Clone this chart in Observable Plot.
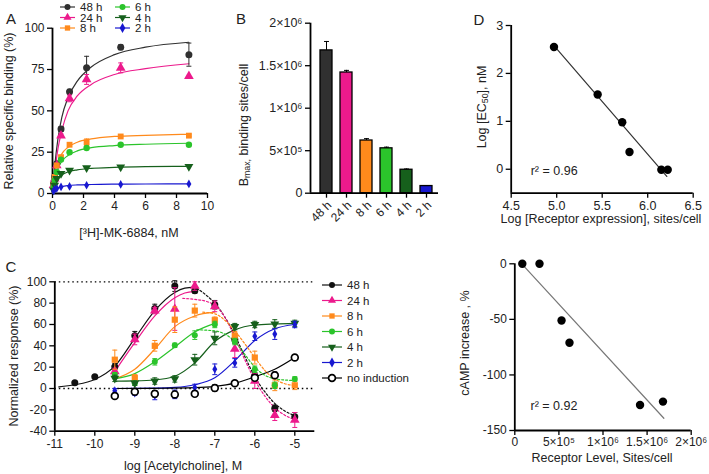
<!DOCTYPE html>
<html><head><meta charset="utf-8">
<script src="https://cdn.jsdelivr.net/npm/d3@7"></script>
<script src="https://cdn.jsdelivr.net/npm/@observablehq/plot@0.6"></script>
<style>
body{margin:0;background:#fff;}
#root{position:relative;width:709px;height:474px;overflow:hidden;font-family:"Liberation Sans",Arial,sans-serif;color:#222;background:#fff;}
.panel{position:absolute;}
.lbl{position:absolute;white-space:nowrap;font-size:12.5px;color:#222;line-height:1;}
.lbl sub{font-size:70%;vertical-align:-0.25em;}
#root svg g[aria-label$="axis tick"] path{stroke:#000;stroke-width:1.3px;}
</style></head>
<body><div id="root"></div>
<script>
// ---------- shared ----------
const hours = ["48 h","24 h","8 h","6 h","4 h","2 h"];
const seriesColors = ["#303030","#ec1a8c","#ff8a1c","#2bc42b","#16601c","#1818d0"];
const triDown = {draw(ctx, size){const y=-Math.sqrt(size/(Math.sqrt(3)*3));ctx.moveTo(0,-2*y);ctx.lineTo(-Math.sqrt(3)*y,y);ctx.lineTo(Math.sqrt(3)*y,y);ctx.closePath();}};
const capSym = {draw(ctx, size){const w=Math.sqrt(size)/2;ctx.moveTo(-w,0);ctx.lineTo(w,0);}};
const symNames = ["circle","triangle","square","circle","down","diamond"];
const symOf = n => n === "down" ? triDown : n;
const d3SymOf = n => ({circle:d3.symbolCircle,triangle:d3.symbolTriangle,square:d3.symbolSquare,diamond:d3.symbolDiamond,down:triDown})[n];
const plain = d => String(d);

// ---------- Panel A: saturation binding ----------
const aConc = [0.07,0.14,0.275,0.55,1.1,2.2,4.4,8.8];
const aBind48 = [6,10,18,39,61.5,76,88.5,84];
const aBind24 = [5,9,17,35,57.5,69,76,71];
const aBind8  = [5,10,17,22,29.5,31,34.5,35];
const aBind6  = [4,8,13,20.5,25,27.5,29.5,29.5];
const aBind4  = [2,5,9,12,14,15.5,16,16.3];
const aBind2  = [1.5,2.5,3,4,4.3,5,5.5,5.8];
const aErr48 = [0,0,1,1.5,1.5,7,1.5,7];
const aErr24 = [0,0,1,1,2,3,3,0];
const aErr8  = [0,0,0,1,1,2,0.5,0.5];
const aErr6  = [0,0,0,0.5,0.5,0.5,0.5,0.5];
const aErr4  = [0,0,0,0,0,0,0,0];
const aErr2  = [0,0,0,0,0,0,0,0];
const aFitConc = [0,0.15,0.35,0.6,1,1.6,2.5,4,6,8.8];
const aFit48 = [0,17,33,46,58,68,76.5,84,88.5,91.5];
const aFit24 = [0,13,27,38,50,59,66,72,75.5,78.5];
const aFit8  = [0,12,19,24,28,31,33,34.5,35.2,35.8];
const aFit6  = [0,9,15,19.5,23,25.8,27.7,29,29.8,30.4];
const aFit4  = [0,6,9.3,11.3,13.1,14.3,15.2,15.8,16.2,16.4];
const aFit2  = [0,2.3,3.5,4.2,4.8,5.2,5.45,5.65,5.75,5.85];
const aXTicks = [0,2,4,6,8,10];
const aYTicks = [0,25,50,75,100];

// ---------- Panel B: Bmax bars ----------
const bLabels = ["48 h","24 h","8 h","6 h","4 h","2 h"];
const bBmax = [1680000,1420000,620000,528000,276000,84000];
const bErr  = [105000,25000,22000,14000,9000,6000];
const bYTicks = [0,500000,1000000,1500000,2000000];
const bYTickText = ["0","5×10⁵","1×10⁶","1.5×10⁶","2×10⁶"];

// ---------- Panel C: dose response ----------
const cDose = [-10.5,-10,-9.5,-9,-8.5,-8,-7.5,-7,-6.5,-6,-5.5,-5];
const cResp48 = [5.5,11,20.5,49.5,75,96,91.5,78.5,46,12,-18.5,-26.5];
const cResp24 = [null,null,16,46,73,74.5,96,77,37,7,-25,-29.5];
const cResp8  = [null,null,27,10,40,64.5,73,64,49.5,29,3,3];
const cResp6  = [null,null,13,5,25,40.5,50,60,44,18,3,9];
const cResp4  = [null,null,9.5,5,7,9,27,47,58,60,60.5,61];
const cResp2  = [null,null,-2,-4.5,-6.5,-5.5,1,18,24,49,51,60];
const cRespNo = [null,null,-7,-3,-5,-5.5,-5,0.5,5,10,12.5,29];
const cErr48 = [0,0,3,4,4,5,2,4,4,3,3,4];
const cErr24 = [0,0,3,5,3,20,4,5,8,7,5,7];
const cErr8  = [0,0,9,3,5,12,6,3,4,6,5,4];
const cErr6  = [0,0,2,2,3,2,4,3,3,3,3,2];
const cErr4  = [0,0,3,2,3,3,5,6,3,3,4,3];
const cErr2  = [0,0,2,2,4,4,3,5,4,4,5,3];
const cErrNo = [0,0,2,2,3,3,2,3,2,2,3,2];
const c48UpX = [-10.9,-10.5,-10,-9.5,-9,-8.5,-8,-7.75,-7.5];
const c48UpY = [1.5,3.5,8.5,21,47,73,90,94,95];
const c48DownX = [-7.45,-7.2,-7,-6.75,-6.5,-6.25,-6,-5.75,-5.5,-5.25,-5];
const c48DownY = [94,87,80,67,50,30,11,-3,-14,-21,-25.5];
const c24UpX = [-9.5,-9,-8.5,-8,-7.75,-7.5];
const c24UpY = [16,43,68,85,89.5,91];
const c24DownX = [-7.8,-7.5,-7.2,-7,-6.75,-6.5,-6.25,-6,-5.75,-5.5,-5.25,-5];
const c24DownY = [84.5,83.5,81.5,78,67,48,27,8,-7,-18,-25,-29];
const c8UpX = [-9.5,-9,-8.5,-8,-7.5,-7];
const c8UpY = [9,18,37,58,68,71.5];
const c8DownX = [-7.3,-7,-6.75,-6.5,-6.25,-6,-5.75,-5.5,-5.25,-5];
const c8DownY = [71.5,70,64,54,42,29,17,9,4.5,3];
const c6UpX = [-9.5,-9,-8.5,-8,-7.5,-7];
const c6UpY = [9,14,25,39,53,61];
const c6DownX = [-7.45,-7,-6.75,-6.5,-6.25,-6,-5.75,-5.5,-5.25,-5];
const c6DownY = [55,54,51,44,32,20,12.5,9,8,7.5];
const c4FitX = [-9.5,-9,-8.5,-8,-7.5,-7,-6.5,-6,-5.5,-5];
const c4FitY = [7,7.2,8,11.5,24,44,55,59.5,60.5,61];
const c2FitX = [-9.5,-8.5,-8,-7.5,-7,-6.5,-6,-5.5,-5];
const c2FitY = [0,0.3,1,3.5,10,26,45,56,60];
const cNoFitX = [-9.5,-8.5,-7.5,-7,-6.5,-6,-5.5,-5];
const cNoFitY = [0,0.2,0.8,2,5,11,18,29];
const cRefLines = [0,100];
const cXTicks = [-11,-10,-9,-8,-7,-6,-5];
const cYTicks = [-40,-20,0,20,40,60,80,100];
const cLegendLabels = ["48 h","24 h","8 h","6 h","4 h","2 h","no induction"];

// ---------- Panel D: EC50 vs receptor ----------
const dLogReceptor = [4.97,5.45,5.72,5.80,6.15,6.22];
const dLogEC50 = [2.55,1.56,0.98,0.36,-0.01,-0.01];
const dFitX = [4.97,6.21];
const dFitY = [2.58,-0.15];
const dXTicks = [4.5,5.0,5.5,6.0,6.5];
const dYTicks = [0,1,2,3];
const dR2 = "r² = 0.96";

// ---------- Panel E: cAMP vs receptor level ----------
const eLevel = [85000,280000,530000,620000,1420000,1680000];
const eCamp = [0,0,-51,-71,-127,-124];
const eFitX = [95000,1690000];
const eFitY = [-1.5,-139];
const eXTicks = [0,500000,1000000,1500000,2000000];
const eXTickText = ["0","5×10⁵","1×10⁶","1.5×10⁶","2×10⁶"];
const eYTicks = [-150,-100,-50,0];
const eR2 = "r² = 0.92";

// ---------- helpers ----------
const root = document.getElementById("root");
function place(node, left, top){const d=document.createElement("div");d.className="panel";d.style.left=left+"px";d.style.top=top+"px";d.appendChild(node);root.appendChild(d);}
function mk(o, fs){return Plot.plot(Object.assign({}, o, {style:{background:"transparent",fontFamily:'"Liberation Sans", Arial, sans-serif',fontSize:fs||"12px",color:"#222",overflow:"visible"}}));}
const AX = {stroke:"#000", strokeWidth:1.8};
function errMarks(pts, color, capR, sw){
  const ep = pts.filter(p => p.e > 0 && p.y != null);
  return [
    Plot.ruleX(ep,{x:"x",y1:p=>p.y-p.e,y2:p=>p.y+p.e,stroke:color,strokeWidth:sw||1}),
    Plot.dot(ep,{x:"x",y:p=>p.y+p.e,symbol:capSym,r:capR,fill:"none",stroke:color,strokeWidth:sw||1}),
    Plot.dot(ep,{x:"x",y:p=>p.y-p.e,symbol:capSym,r:capR,fill:"none",stroke:color,strokeWidth:sw||1})
  ];
}

// ---------- Panel A ----------
{
  const bind=[aBind48,aBind24,aBind8,aBind6,aBind4,aBind2];
  const err=[aErr48,aErr24,aErr8,aErr6,aErr4,aErr2];
  const fit=[aFit48,aFit24,aFit8,aFit6,aFit4,aFit2];
  const rad=[3.5,3.6,3.3,3.2,3.3,2.6];
  const marks=[
    Plot.ruleX([aXTicks[0]],{y1:aYTicks[0],y2:aYTicks[aYTicks.length-1],...AX}),
    Plot.ruleY([aYTicks[0]],{x1:aXTicks[0],x2:aXTicks[aXTicks.length-1],...AX})
  ];
  hours.forEach((h,i)=>marks.push(Plot.line(aFitConc.map((x,j)=>({x,y:fit[i][j]})),{x:"x",y:"y",stroke:seriesColors[i],strokeWidth:1.2,curve:"monotone-x"})));
  hours.forEach((h,i)=>{
    const pts=aConc.map((x,j)=>({x,y:bind[i][j],e:err[i][j]}));
    marks.push(...errMarks(pts,seriesColors[i],2.8,1));
    marks.push(Plot.dot(pts,{x:"x",y:"y",symbol:symOf(symNames[i]),r:rad[i],fill:seriesColors[i],stroke:"none"}));
  });
  place(mk({width:230,height:245,marginLeft:52,marginRight:23,marginTop:27.7,marginBottom:52,
    x:{domain:[0,10],ticks:aXTicks,tickFormat:plain,tickSize:5,tickPadding:3,label:null},
    y:{domain:[0,100],ticks:aYTicks,tickFormat:plain,tickSize:5,tickPadding:3,label:null},
    marks}),0,0);
}

// ---------- Panel B ----------
{
  const data=bLabels.map((l,i)=>({i,v:bBmax[i],e:bErr[i],c:seriesColors[i],label:l}));
  const marks=[
    Plot.rectY(data,{x1:d=>d.i-0.3,x2:d=>d.i+0.3,y1:0,y2:"v",fill:"c",stroke:"#000",strokeWidth:1.3}),
    Plot.ruleX(data,{x:"i",y1:"v",y2:d=>d.v+d.e,stroke:"#000",strokeWidth:1}),
    Plot.dot(data,{x:"i",y:d=>d.v+d.e,symbol:capSym,r:2.8,fill:"none",stroke:"#000",strokeWidth:1}),
    Plot.ruleX([-0.8],{y1:0,y2:bYTicks[bYTicks.length-1],...AX}),
    Plot.ruleY([0],{x1:-0.8,x2:5.6,...AX}),
    Plot.text(data,{x:"i",y:0,text:"label",rotate:-45,textAnchor:"end",lineAnchor:"middle",dx:3,dy:10,fontSize:12,fill:"#222"})
  ];
  place(mk({width:210,height:260,marginLeft:74,marginRight:8,marginTop:22.7,marginBottom:67.3,
    color:{type:"identity"},
    x:{domain:[-0.8,5.6],ticks:bLabels.map((l,i)=>i),tickFormat:()=>"",tickSize:5,tickPadding:2,label:null},
    y:{domain:[0,2000000],ticks:bYTicks,tickFormat:v=>bYTickText[bYTicks.indexOf(v)],tickSize:5,tickPadding:3,label:null},
    marks},"12.5px"),236,0);
}

// ---------- Panel C ----------
const cColors = ["#111",...seriesColors.slice(1),"#000"];
const cSyms = [...symNames,"circle"];
const cRad = [3.5,3.6,3.5,3.0,3.3,2.6,3.4];
{
  const resp=[cResp48,cResp24,cResp8,cResp6,cResp4,cResp2,cRespNo];
  const err=[cErr48,cErr24,cErr8,cErr6,cErr4,cErr2,cErrNo];
  const solid=[[c48UpX,c48UpY],[c24UpX,c24UpY],[c8UpX,c8UpY],[c6UpX,c6UpY],[c4FitX,c4FitY],[c2FitX,c2FitY],[cNoFitX,cNoFitY]];
  const dotted=[[c48DownX,c48DownY],[c24DownX,c24DownY],[c8DownX,c8DownY],[c6DownX,c6DownY]];
  const marks=[
    Plot.ruleY(cRefLines,{x1:-11,x2:-4.5,stroke:"#000",strokeWidth:1.3,strokeDasharray:"1.5,3"}),
    Plot.ruleX([-11],{y1:-40,y2:100,...AX}),
    Plot.ruleY([-40],{x1:-11,x2:-4.5,...AX})
  ];
  solid.forEach(([X,Y],i)=>marks.push(Plot.line(X.map((x,j)=>({x,y:Y[j]})),{x:"x",y:"y",stroke:cColors[i],strokeWidth:1.2,curve:"monotone-x"})));
  dotted.forEach(([X,Y],i)=>marks.push(Plot.line(X.map((x,j)=>({x,y:Y[j]})),{x:"x",y:"y",stroke:cColors[i],strokeWidth:1.2,strokeDasharray:"2,2",curve:"monotone-x"})));
  resp.forEach((R,i)=>{
    const pts=cDose.map((x,j)=>({x,y:R[j],e:err[i][j]})).filter(p=>p.y!=null);
    marks.push(...errMarks(pts,cColors[i],2.8,1));
    if(i===6) marks.push(Plot.dot(pts,{x:"x",y:"y",symbol:"circle",r:cRad[i],fill:"#fff",stroke:"#000",strokeWidth:1.7}));
    else marks.push(Plot.dot(pts,{x:"x",y:"y",symbol:symOf(cSyms[i]),r:cRad[i],fill:cColors[i],stroke:"none"}));
  });
  place(mk({width:330,height:224,marginLeft:54.3,marginRight:15.7,marginTop:31.3,marginBottom:43.3,
    x:{domain:[-11,-4.5],ticks:cXTicks,tickFormat:plain,tickSize:5,tickPadding:3,label:null},
    y:{domain:[-40,100],ticks:cYTicks,tickFormat:plain,tickSize:5,tickPadding:3,label:null},
    marks}),0,250);
}

// ---------- Panel D ----------
{
  const pts=dLogReceptor.map((x,i)=>({x,y:dLogEC50[i]}));
  const fit=dFitX.map((x,i)=>({x,y:dFitY[i]}));
  place(mk({width:269,height:240,marginLeft:70.7,marginRight:16.3,marginTop:25,marginBottom:47.3,
    x:{domain:[4.5,6.5],ticks:dXTicks,tickFormat:d3.format(".1f"),tickSize:5,tickPadding:3,label:null},
    y:{domain:[-0.5,3],ticks:dYTicks,tickFormat:plain,tickSize:5,tickPadding:3,label:null},
    marks:[
      Plot.ruleX([4.5],{y1:-0.5,y2:3,...AX}),
      Plot.ruleY([-0.5],{x1:4.5,x2:6.5,...AX}),
      Plot.line(fit,{x:"x",y:"y",stroke:"#333",strokeWidth:1.2}),
      Plot.dot(pts,{x:"x",y:"y",r:4.2,fill:"#000",stroke:"none"}),
      Plot.text([dR2],{frameAnchor:"bottom-left",dx:19.5,dy:-22,textAnchor:"start",lineAnchor:"middle",fontSize:12.5,fill:"#222"})
    ]},"12.5px"),440,0);
}

// ---------- Panel E ----------
{
  const pts=eLevel.map((x,i)=>({x,y:eCamp[i]}));
  const fit=eFitX.map((x,i)=>({x,y:eFitY[i]}));
  place(mk({width:269,height:234,marginLeft:74.3,marginRight:18.3,marginTop:23.3,marginBottom:44,
    x:{domain:[0,2000000],ticks:eXTicks,tickFormat:v=>eXTickText[eXTicks.indexOf(v)],tickSize:5,tickPadding:2,label:null},
    y:{domain:[-150,0],ticks:eYTicks,tickFormat:plain,tickSize:5,tickPadding:3,label:null},
    marks:[
      Plot.ruleX([0],{y1:-150,y2:0,...AX}),
      Plot.ruleY([-150],{x1:0,x2:2000000,...AX}),
      Plot.line(fit,{x:"x",y:"y",stroke:"#777",strokeWidth:1.2}),
      Plot.dot(pts,{x:"x",y:"y",r:4.2,fill:"#000",stroke:"none"}),
      Plot.text([eR2],{frameAnchor:"bottom-left",dx:15.7,dy:-24.3,textAnchor:"start",lineAnchor:"middle",fontSize:12.5,fill:"#222"})
    ]},"12px"),440,240);
}

// ---------- legends ----------
function legendSvg(left, top, w, h, items){
  const svg=d3.create("svg").attr("width",w).attr("height",h).style("position","absolute").style("left",left+"px").style("top",top+"px").style("overflow","visible");
  items.forEach(it=>{
    svg.append("line").attr("x1",it.x).attr("x2",it.x+it.len).attr("y1",it.y).attr("y2",it.y).attr("stroke",it.color).attr("stroke-width",1.2);
    const p=svg.append("path").attr("transform",`translate(${it.x+it.len/2},${it.y})`).attr("d",d3.symbol(d3SymOf(it.sym),Math.PI*it.r*it.r)());
    if(it.open) p.attr("fill","#fff").attr("stroke","#000").attr("stroke-width",1.7); else p.attr("fill",it.color);
    svg.append("text").attr("x",it.x+it.len+it.gap).attr("y",it.y).attr("dy","0.36em").attr("font-size",it.fs).attr("fill","#222").attr("font-family",'"Liberation Sans", Arial, sans-serif').text(it.label);
  });
  root.appendChild(svg.node());
}
legendSvg(0,0,200,40,hours.map((h,i)=>({label:h,color:seriesColors[i],sym:symNames[i],r:3,
  x: i<3?60:115, y: 7+(i%3)*10.5, len:15, gap:5, fs:11.5})));
legendSvg(0,0,420,400,cLegendLabels.map((h,i)=>({label:h,color:cColors[i],sym:cSyms[i],r:i===6?3.4:3,open:i===6,
  x:322, y:285+i*15.5, len:20, gap:5, fs:11.5})));

// ---------- axis titles & panel letters ----------
const texts=[
  {t:"A",x:11,y:18,s:15},{t:"B",x:241,y:18,s:15},{t:"C",x:11,y:266,s:15},{t:"D",x:479,y:19,s:15},
  {t:"Relative specific binding (%)",x:9,y:111,r:1},
  {t:"[³H]-MK-6884, nM",x:129,y:233},
  {t:"B<sub>max,</sub> binding sites/cell",x:245,y:125,r:1},
  {t:"Normalized response (%)",x:14,y:356,r:1},
  {t:"log [Acetylcholine], M",x:183,y:466},
  {t:"Log [EC<sub>50</sub>], nM",x:483,y:107,r:1},
  {t:"Log [Receptor expression], sites/cell",x:601,y:219},
  {t:"cAMP increase , %",x:465,y:343,r:1},
  {t:"Receptor Level, Sites/cell",x:602,y:458}
];
texts.forEach(o=>{
  const d=document.createElement("div");d.className="lbl";d.innerHTML=o.t;
  d.style.left=o.x+"px";d.style.top=o.y+"px";if(o.s)d.style.fontSize=o.s+"px";
  d.style.transform="translate(-50%,-50%)"+(o.r?" rotate(-90deg)":"");
  root.appendChild(d);
});
</script></body></html>
